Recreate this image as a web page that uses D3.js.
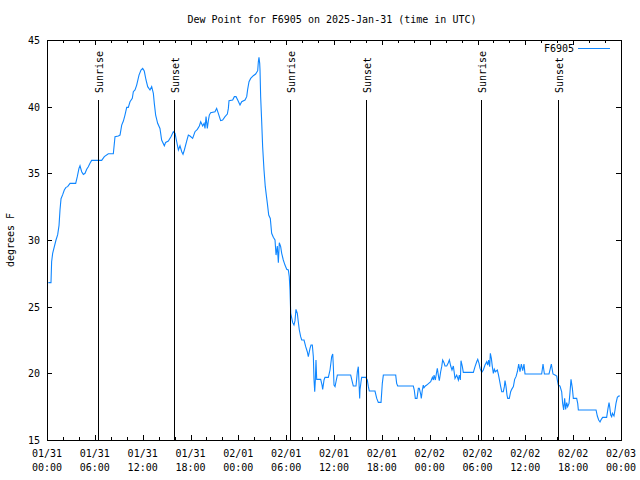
<!DOCTYPE html>
<html>
<head>
<meta charset="utf-8">
<script src="https://cdn.jsdelivr.net/npm/d3@7"></script>
<style>
  html, body { margin: 0; padding: 0; background: #fff; }
  svg { display: block; }
  text { font-family: "DejaVu Sans Mono", "Liberation Mono", monospace; font-size: 10px; fill: #000; }
</style>
</head>
<body>
<svg id="chart" width="640" height="480"></svg>
<script>
// ---- data (hours since 2025-01-31 00:00 UTC, dew point in °F) ----
const title = "Dew Point for F6905 on 2025-Jan-31 (time in UTC)";
const seriesName = "F6905";
const yLabel = "degrees F";
const yTicks = [15, 20, 25, 30, 35, 40, 45];

const hours = [
  0.17,0.5,0.58,0.71,0.92,1.13,1.34,1.51,1.63,1.76,1.97,2.17,2.38,2.59,2.89,3.6,3.8,4.01,4.14,4.35,4.56,4.77,4.98,5.18,5.39,5.6,6.86,7.19,7.69,8.32,8.53,8.95,9.16,9.37,9.58,9.78,10.0,10.2,10.41,10.7,10.83,11.04,11.25,11.54,11.79,12.0,12.2,12.42,12.63,12.92,13.13,13.34,13.46,13.63,13.88,14.17,14.38,14.72,14.88,15.22,15.55,15.85,16.06,16.27,16.48,16.68,16.9,17.06,17.23,17.52,17.73,
  17.94,18.27,18.56,18.86,19.11,19.28,19.53,19.7,19.82,19.95,20.11,20.24,20.36,20.53,21.07,21.28,21.49,21.78,22.03,22.33,22.62,22.75,22.83,23.29,23.5,23.71,23.92,24.21,24.42,24.84,25.05,25.17,25.34,25.55,25.88,26.17,26.43,26.51,26.59,26.68,26.72,26.8,26.93,27.05,27.22,27.38,27.51,27.64,27.81,28.01,28.18,28.39,28.6,28.73,28.89,29.02,29.14,29.31,29.44,29.64,29.85,30.07,30.27,30.39,30.48,
  30.57,30.82,30.98,31.11,31.23,31.4,31.52,31.65,31.82,31.95,32.24,32.45,32.65,32.78,32.99,33.12,33.28,33.41,33.49,33.58,33.66,33.74,33.83,34.33,34.5,34.58,34.75,34.87,35.29,35.5,35.63,35.71,35.84,35.92,36.0,36.13,36.25,36.42,38.09,38.34,38.42,38.76,38.85,38.93,39.05,39.14,39.22,39.26,39.39,39.47,39.98,40.18,40.31,40.43,41.14,41.36,41.56,41.9,42.06,42.19,43.74,43.86,43.99,45.95,46.07,46.2,46.41,46.58,46.7,46.88,46.95,47.08,47.2,47.29,47.46,47.63,47.88,48.13,48.34,48.46,48.55,48.71,48.88,48.96,49.13,49.21,49.38,49.51,49.63,49.8,49.92,50.14,50.34,50.47,50.64,50.8,50.97,51.18,51.39,51.6,51.72,51.85,
  51.93,52.1,52.22,53.48,53.69,53.9,54.03,54.19,54.32,54.53,54.73,54.94,55.16,55.28,55.4,55.53,55.61,55.74,55.86,55.99,56.11,56.24,56.49,56.62,56.74,56.91,57.04,57.24,57.37,57.45,57.58,57.7,57.79,57.99,58.16,58.29,58.5,58.66,58.83,59.0,59.17,59.33,59.5,59.67,59.83,59.96,62.05,62.22,62.39,62.97,63.14,63.26,63.47,63.72,63.94,64.01,64.14,64.35,64.56,64.68,64.81,64.93,65.06,65.19,65.31,65.48,65.6,65.73,65.9,66.02,66.44,66.57,66.65,68.87,69.03,69.2,69.37,69.53,69.7,70.2,70.37,70.5,70.58,70.71,70.83,70.92,71.12,71.25,71.37,71.54,71.71,71.87
];
const dewF = [
  26.8,26.8,28.37,29.0,29.5,30.0,30.4,31.1,32.25,33.1,33.4,33.75,33.95,34.0,34.25,34.25,34.75,35.37,35.57,35.12,34.92,35.0,35.3,35.5,35.75,35.97,35.97,36.25,36.47,36.47,37.75,37.8,37.87,38.62,38.92,39.37,39.95,39.95,40.37,40.62,41.12,41.25,41.62,42.37,42.75,42.87,42.67,42.0,41.5,41.25,41.5,41.0,40.25,39.37,38.75,38.37,37.5,37.07,37.32,37.42,37.75,38.12,38.0,37.37,36.75,37.07,36.62,36.43,36.75,37.42,37.87,
  37.8,37.62,38.12,38.3,38.55,38.87,38.55,38.75,38.37,39.25,38.37,38.95,39.37,39.55,39.62,39.87,39.5,38.95,39.0,39.25,39.45,39.87,40.45,40.5,40.75,40.75,40.5,40.12,40.37,40.5,40.75,41.3,41.87,42.12,42.32,42.45,42.7,43.37,43.7,43.25,42.75,40.75,38.87,37.0,35.25,34.0,33.37,32.75,31.87,31.62,30.5,30.2,30.0,28.87,29.55,28.3,29.8,29.5,29.0,28.5,28.12,27.8,27.75,27.25,26.25,
  24.5,23.8,23.62,23.95,24.8,24.5,23.87,23.25,22.75,22.5,22.5,22.0,21.62,21.25,21.87,22.12,22.12,21.25,19.55,18.62,19.5,21.0,19.55,19.55,19.12,18.8,19.5,19.7,19.7,20.25,20.87,21.25,21.45,20.5,19.12,19.0,19.37,19.87,19.87,19.25,19.05,19.05,19.62,20.12,20.5,19.25,18.12,18.75,19.37,19.7,19.7,19.5,19.0,18.67,18.67,18.12,17.82,17.82,19.25,19.87,19.87,19.25,19.05,19.05,18.75,18.12,18.12,18.87,18.87,18.42,18.12,18.75,19.12,18.92,19.05,19.12,19.25,19.37,19.7,19.5,19.87,19.5,20.12,20.37,19.7,19.45,20.12,20.5,21.0,20.8,20.55,20.55,20.8,21.0,20.55,20.25,20.55,19.62,19.87,19.5,19.87,19.5,
  20.95,20.5,20.07,20.07,20.5,20.87,21.05,20.75,20.37,20.07,20.25,20.62,20.87,20.62,21.0,20.5,21.5,21.12,20.5,20.0,20.3,20.12,20.25,19.92,19.55,19.0,18.62,18.62,19.0,19.45,19.0,18.37,18.12,18.12,18.62,18.8,19.0,19.55,19.75,20.12,20.7,20.12,20.7,20.2,20.7,19.95,19.95,20.7,19.95,19.95,20.37,20.7,19.95,19.87,19.8,19.5,19.12,19.05,18.62,17.75,17.25,18.12,17.3,17.8,17.5,17.75,18.55,19.55,18.87,18.12,18.12,17.75,17.25,17.25,16.8,16.5,16.35,16.55,16.7,16.7,17.37,17.8,17.5,16.87,16.75,17.0,16.8,17.25,17.75,18.2,18.3,18.3
];

const sunEventHours = [6.43, 15.97, 30.48, 40.03, 54.47, 64.1];
const sunEventLabels = ["Sunrise", "Sunset", "Sunrise", "Sunset", "Sunrise", "Sunset"];

// ---- layout ----
const L = 47, R = 621, T = 40, B = 440;
const t0 = Date.UTC(2025, 0, 31);
const toDate = h => new Date(t0 + h * 3600 * 1000);

const svg = d3.select("#chart");
const x = d3.scaleUtc().domain([new Date(t0), new Date(Date.UTC(2025, 1, 3))]).range([L, R]);
const y = d3.scaleLinear().domain([15, 45]).range([B, T]);

const data = hours.map((h, i) => ({ t: toDate(h), v: dewF[i] }));

// data line
svg.append("path")
  .datum(data)
  .attr("fill", "none")
  .attr("stroke", "#0f86ff")
  .attr("stroke-width", 1.1)
  .attr("d", d3.line().x(d => x(d.t)).y(d => y(d.v)));

// sunrise / sunset lines + labels
const sun = sunEventHours.map((h, i) => ({ t: toDate(h), label: sunEventLabels[i] }));
svg.selectAll("line.sun").data(sun).join("line")
  .attr("class", "sun")
  .attr("x1", d => Math.round(x(d.t)) + 0.5).attr("x2", d => Math.round(x(d.t)) + 0.5)
  .attr("y1", 100).attr("y2", B)
  .attr("stroke", "#000").attr("stroke-width", 1);
svg.selectAll("text.sun").data(sun).join("text")
  .attr("class", "sun")
  .attr("transform", d => `translate(${Math.round(x(d.t)) + 4.5},93) rotate(-90)`)
  .attr("text-anchor", "start")
  .text(d => d.label);

// axes with inward ticks (mirrored on top/right)
const majorX = d3.utcHour.every(6).range(new Date(t0), new Date(Date.UTC(2025, 1, 3, 1)));
const minorX = d3.utcHour.every(2).range(new Date(t0), new Date(Date.UTC(2025, 1, 3, 1)))
  .filter(d => d.getUTCHours() % 6 !== 0);

function ticksX(vals, ypos, len) {
  svg.append("g").selectAll("line").data(vals).join("line")
    .attr("x1", d => Math.round(x(d)) + 0.5).attr("x2", d => Math.round(x(d)) + 0.5)
    .attr("y1", ypos).attr("y2", ypos + len)
    .attr("stroke", "#000").attr("stroke-width", 1);
}
ticksX(majorX, B, -5); ticksX(minorX, B, -3);
ticksX(majorX, T, 5);  ticksX(minorX, T, 3);

function ticksY(xpos, len) {
  svg.append("g").selectAll("line").data(yTicks).join("line")
    .attr("x1", xpos).attr("x2", xpos + len)
    .attr("y1", d => Math.round(y(d)) + 0.5).attr("y2", d => Math.round(y(d)) + 0.5)
    .attr("stroke", "#000").attr("stroke-width", 1);
}
ticksY(L, 5); ticksY(R, -5);

// border
svg.append("rect")
  .attr("x", L + 0.5).attr("y", T + 0.5)
  .attr("width", R - L).attr("height", B - T)
  .attr("fill", "none").attr("stroke", "#000").attr("stroke-width", 1);

// x tick labels (two lines)
const fmtDate = d3.utcFormat("%m/%d"), fmtTime = d3.utcFormat("%H:%M");
const xl = svg.append("g").selectAll("text").data(majorX).join("text")
  .attr("text-anchor", "middle");
xl.append("tspan").attr("x", d => x(d)).attr("y", 457).text(d => fmtDate(d));
xl.append("tspan").attr("x", d => x(d)).attr("y", 471).text(d => fmtTime(d));

// y tick labels
svg.append("g").selectAll("text").data(yTicks).join("text")
  .attr("x", 40).attr("y", d => y(d) + 4)
  .attr("text-anchor", "end")
  .text(d => d);

// y axis label
svg.append("text")
  .attr("transform", "translate(14,240) rotate(-90)")
  .attr("text-anchor", "middle")
  .text(yLabel);

// title
svg.append("text")
  .attr("x", 332).attr("y", 23)
  .attr("text-anchor", "middle")
  .text(title);

// legend
svg.append("text")
  .attr("x", 574).attr("y", 52)
  .attr("text-anchor", "end")
  .text(seriesName);
svg.append("line")
  .attr("x1", 578).attr("x2", 610).attr("y1", 48.5).attr("y2", 48.5)
  .attr("stroke", "#0f86ff").attr("stroke-width", 1);
</script>
</body>
</html>
